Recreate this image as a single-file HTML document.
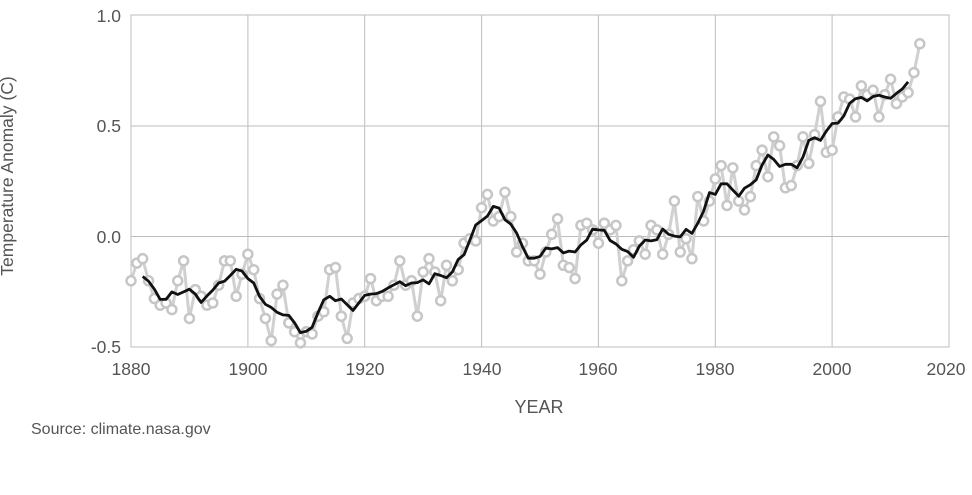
<!DOCTYPE html>
<html><head><style>
html,body{margin:0;padding:0;background:#fff;}
svg text{font-family:"Liberation Sans",Arial,sans-serif;fill:#555;}
</style></head><body>
<svg id="s" width="972" height="490" viewBox="0 0 972 490" xmlns="http://www.w3.org/2000/svg">
<rect width="972" height="490" fill="#fff"/>
<g stroke="#bdbdbd" stroke-width="1" fill="none">
<rect x="131" y="15" width="818" height="332"/>
<line x1="131" y1="126" x2="949" y2="126"/>
<line x1="131" y1="236.5" x2="949" y2="236.5"/>
<line x1="247.9" y1="15" x2="247.9" y2="347"/>
<line x1="364.7" y1="15" x2="364.7" y2="347"/>
<line x1="481.6" y1="15" x2="481.6" y2="347"/>
<line x1="598.4" y1="15" x2="598.4" y2="347"/>
<line x1="715.3" y1="15" x2="715.3" y2="347"/>
<line x1="832.1" y1="15" x2="832.1" y2="347"/>
</g>
<g font-size="17.5" text-anchor="end">
<text x="121" y="22">1.0</text>
<text x="121" y="132">0.5</text>
<text x="121" y="243">0.0</text>
<text x="121" y="353">-0.5</text>
</g>
<g font-size="17.5" text-anchor="middle">
<text x="131" y="375">1880</text>
<text x="248" y="375">1900</text>
<text x="365" y="375">1920</text>
<text x="482" y="375">1940</text>
<text x="598" y="375">1960</text>
<text x="715" y="375">1980</text>
<text x="832" y="375">2000</text>
<text x="946" y="375">2020</text>
</g>
<text x="539" y="413" font-size="18" text-anchor="middle">YEAR</text>
<text transform="translate(13,176) rotate(-90)" font-size="17.5" text-anchor="middle">Temperature Anomaly (C)</text>
<text x="31" y="434" font-size="16">Source: climate.nasa.gov</text>
<g id="data"></g>
</svg>
<script>
var v=[-0.20,-0.12,-0.10,-0.20,-0.28,-0.31,-0.30,-0.33,-0.20,-0.11,-0.37,-0.24,-0.27,-0.31,-0.30,-0.22,-0.11,-0.11,-0.27,-0.17,-0.08,-0.15,-0.28,-0.37,-0.47,-0.26,-0.22,-0.39,-0.43,-0.48,-0.43,-0.44,-0.36,-0.34,-0.15,-0.14,-0.36,-0.46,-0.30,-0.28,-0.27,-0.19,-0.29,-0.27,-0.27,-0.22,-0.11,-0.22,-0.20,-0.36,-0.16,-0.10,-0.16,-0.29,-0.13,-0.20,-0.15,-0.03,-0.01,-0.02,0.13,0.19,0.07,0.09,0.20,0.09,-0.07,-0.03,-0.11,-0.11,-0.17,-0.07,0.01,0.08,-0.13,-0.14,-0.19,0.05,0.06,0.03,-0.03,0.06,0.03,0.05,-0.20,-0.11,-0.06,-0.02,-0.08,0.05,0.03,-0.08,0.01,0.16,-0.07,-0.01,-0.10,0.18,0.07,0.16,0.26,0.32,0.14,0.31,0.16,0.12,0.18,0.32,0.39,0.27,0.45,0.41,0.22,0.23,0.32,0.45,0.33,0.46,0.61,0.38,0.39,0.54,0.63,0.62,0.54,0.68,0.64,0.66,0.54,0.64,0.71,0.60,0.63,0.65,0.74,0.87];
function X(y){return 131+(y-1880)*5.843;}
function Y(t){return 236.5-t*221.5;}
var g=document.getElementById('data'),ns="http://www.w3.org/2000/svg",p=[],m=[];
for(var i=0;i<v.length;i++)p.push(X(1880+i).toFixed(1)+","+Y(v[i]).toFixed(1));
for(var i=2;i<v.length-2;i++){var s=0;for(var k=-2;k<=2;k++)s+=v[i+k];m.push(X(1880+i).toFixed(1)+","+Y(s/5).toFixed(1));}
var l=document.createElementNS(ns,"polyline");l.setAttribute("points",p.join(" "));l.setAttribute("fill","none");l.setAttribute("stroke","#d0d0d0");l.setAttribute("stroke-width","3");g.appendChild(l);
for(var i=0;i<v.length;i++){var c=document.createElementNS(ns,"circle");c.setAttribute("cx",X(1880+i));c.setAttribute("cy",Y(v[i]));c.setAttribute("r","4.5");c.setAttribute("fill","#fff");c.setAttribute("stroke","#c6c6c6");c.setAttribute("stroke-width","2.5");g.appendChild(c);}
var b=document.createElementNS(ns,"polyline");b.setAttribute("points",m.join(" "));b.setAttribute("fill","none");b.setAttribute("stroke","#111");b.setAttribute("stroke-width","2.8");b.setAttribute("stroke-linejoin","round");g.appendChild(b);
</script>
</body></html>
